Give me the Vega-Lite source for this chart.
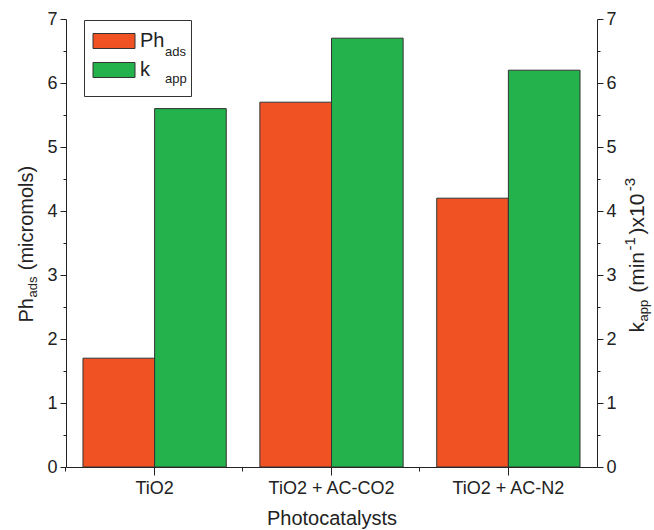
{
  "$schema": "https://vega.github.io/schema/vega-lite/v6.json",
  "width": 531,
  "height": 448,
  "autosize": "none",
  "padding": {"left": 66, "top": 19, "right": 57, "bottom": 63},
  "config": {
    "font": "Liberation Sans",
    "view": {"stroke": null},
    "axis": {
      "grid": false,
      "domainColor": "#222",
      "tickColor": "#222",
      "labelColor": "#222",
      "titleColor": "#222",
      "labelFont": "Liberation Sans",
      "titleFont": "Liberation Sans",
      "titleFontWeight": "normal"
    },
    "legend": {"labelFont": "Liberation Sans", "labelColor": "#222"}
  },
  "data": {
    "values": [
      {"catalyst": "TiO2", "series": "Ph", "sub": "ads", "value": 1.7},
      {"catalyst": "TiO2", "series": "k", "sub": "app", "value": 5.6},
      {"catalyst": "TiO2 + AC-CO2", "series": "Ph", "sub": "ads", "value": 5.7},
      {"catalyst": "TiO2 + AC-CO2", "series": "k", "sub": "app", "value": 6.7},
      {"catalyst": "TiO2 + AC-N2", "series": "Ph", "sub": "ads", "value": 4.2},
      {"catalyst": "TiO2 + AC-N2", "series": "k", "sub": "app", "value": 6.2}
    ]
  },
  "layer": [
    {
      "mark": {"type": "bar", "stroke": "#333", "strokeWidth": 1},
      "encoding": {
        "x": {
          "field": "catalyst", "type": "nominal",
          "sort": ["TiO2", "TiO2 + AC-CO2", "TiO2 + AC-N2"],
          "scale": {"paddingInner": 0.19, "paddingOuter": 0.096},
          "axis": {"orient": "bottom", "title": "Photocatalysts", "labelAngle": 0, "labelFontSize": 18, "titleFontSize": 20, "tickSize": 8, "labelPadding": 4, "titlePadding": 11}
        },
        "xOffset": {"field": "series", "type": "nominal", "sort": ["Ph", "k"], "scale": {"paddingInner": 0, "paddingOuter": 0}},
        "y": {
          "field": "value", "type": "quantitative",
          "scale": {"domain": [0, 7], "nice": false},
          "axis": {
            "orient": "left", "values": [0, 1, 2, 3, 4, 5, 6, 7], "tickSize": 6, "labelFontSize": 18, "labelPadding": 3,
            "title": "Ph\u00a0\u00a0\u00a0\u00a0\u00a0(micromols)", "titleFontSize": 20, "titleAngle": 270, "titleAlign": "left", "titleBaseline": "alphabetic", "titleX": -34, "titleY": 303
          }
        },
        "fill": {
          "field": "series", "type": "nominal", "sort": ["Ph", "k"],
          "scale": {"domain": ["Ph", "k"], "range": ["#F05223", "#23B24B"]},
          "legend": {
            "orient": "none", "legendX": 18, "legendY": 1,
            "title": "\u200b\u00a0\u200b", "titleOrient": "bottom", "titleFontSize": 5, "titleFontWeight": "normal", "titlePadding": 2,
            "labelFontSize": 20,
            "symbolType": "M-1.043,-0.652H2.609V0.652H-1.043Z", "symbolSize": 529, "symbolStrokeColor": "#333", "symbolStrokeWidth": 1,
            "strokeColor": "#333", "padding": 9, "rowPadding": 7, "labelOffset": 23, "labelBaseline": "middle",
            "labelExpr": "datum.label + '\u00a0\u00a0\u00a0\u200b'"
          }
        }
      }
    },
    {
      "mark": {"type": "bar", "opacity": 0},
      "encoding": {
        "x": {
          "field": "catalyst", "type": "nominal",
          "sort": ["TiO2", "TiO2 + AC-CO2", "TiO2 + AC-N2"],
          "axis": {"orient": "bottom", "title": null, "labels": false, "domain": false, "tickSize": 4, "bandPosition": -0.119}
        },
        "xOffset": {"field": "series", "type": "nominal", "sort": ["Ph", "k"]},
        "y": {
          "field": "value", "type": "quantitative",
          "scale": {"domain": [0, 7], "nice": false},
          "axis": {
            "orient": "left", "values": [0.5, 1.5, 2.5, 3.5, 4.5, 5.5, 6.5], "tickSize": 3, "labels": false, "domain": false,
            "title": "ads", "titleFontSize": 13, "titleAngle": 270, "titleAlign": "left", "titleBaseline": "alphabetic", "titleX": -30, "titleY": 278
          }
        },
        "stroke": {
          "field": "sub", "type": "nominal", "sort": ["ads", "app"],
          "scale": {"domain": ["ads", "app"], "range": ["transparent", "transparent"]},
          "legend": {
            "orient": "none", "legendX": 42, "legendY": 11, "title": null, "labelFontSize": 13,
            "symbolType": "M-1.043,-0.652H2.609V0.652H-1.043Z", "symbolSize": 529, "symbolOpacity": 0,
            "padding": 9, "rowPadding": 7, "labelOffset": 23, "labelBaseline": "middle"
          }
        }
      }
    },
    {
      "mark": {"type": "bar", "opacity": 0},
      "encoding": {
        "x": {"field": "catalyst", "type": "nominal", "sort": ["TiO2", "TiO2 + AC-CO2", "TiO2 + AC-N2"], "axis": null},
        "xOffset": {"field": "series", "type": "nominal", "sort": ["Ph", "k"]},
        "y": {
          "field": "value", "type": "quantitative",
          "scale": {"domain": [0, 7], "nice": false},
          "axis": {
            "orient": "right", "values": [0, 1, 2, 3, 4, 5, 6, 7], "tickSize": 6, "labelFontSize": 18, "labelPadding": 3,
            "title": "k\u00a0\u00a0\u00a0\u00a0\u00a0(min\u00a0\u00a0\u00a0)x10", "titleFontSize": 21, "titleAngle": 270, "titleAlign": "left", "titleBaseline": "alphabetic", "titleX": 46, "titleY": 313
          }
        }
      }
    },
    {
      "mark": {"type": "bar", "opacity": 0},
      "encoding": {
        "x": {"field": "catalyst", "type": "nominal", "sort": ["TiO2", "TiO2 + AC-CO2", "TiO2 + AC-N2"], "axis": null},
        "xOffset": {"field": "series", "type": "nominal", "sort": ["Ph", "k"]},
        "y": {
          "field": "value", "type": "quantitative",
          "scale": {"domain": [0, 7], "nice": false},
          "axis": {
            "orient": "right", "values": [0.5, 1.5, 2.5, 3.5, 4.5, 5.5, 6.5], "tickSize": 3, "labels": false, "domain": false,
            "title": "app", "titleFontSize": 13, "titleAngle": 270, "titleAlign": "left", "titleBaseline": "alphabetic", "titleX": 50, "titleY": 302
          }
        }
      }
    },
    {
      "mark": {"type": "bar", "opacity": 0},
      "encoding": {
        "x": {"field": "catalyst", "type": "nominal", "sort": ["TiO2", "TiO2 + AC-CO2", "TiO2 + AC-N2"], "axis": null},
        "xOffset": {"field": "series", "type": "nominal", "sort": ["Ph", "k"]},
        "y": {
          "field": "value", "type": "quantitative",
          "scale": {"domain": [0, 7], "nice": false},
          "axis": {
            "orient": "right", "ticks": false, "labels": false, "domain": false,
            "title": "-1\u00a0\u00a0\u00a0\u00a0\u00a0\u00a0\u00a0\u00a0\u00a0\u00a0\u00a0-3", "titleFontSize": 15, "titleAngle": 270, "titleAlign": "left", "titleBaseline": "alphabetic", "titleX": 37, "titleY": 231
          }
        }
      }
    }
  ],
  "resolve": {"scale": {"y": "independent"}, "axis": {"x": "independent"}}
}
